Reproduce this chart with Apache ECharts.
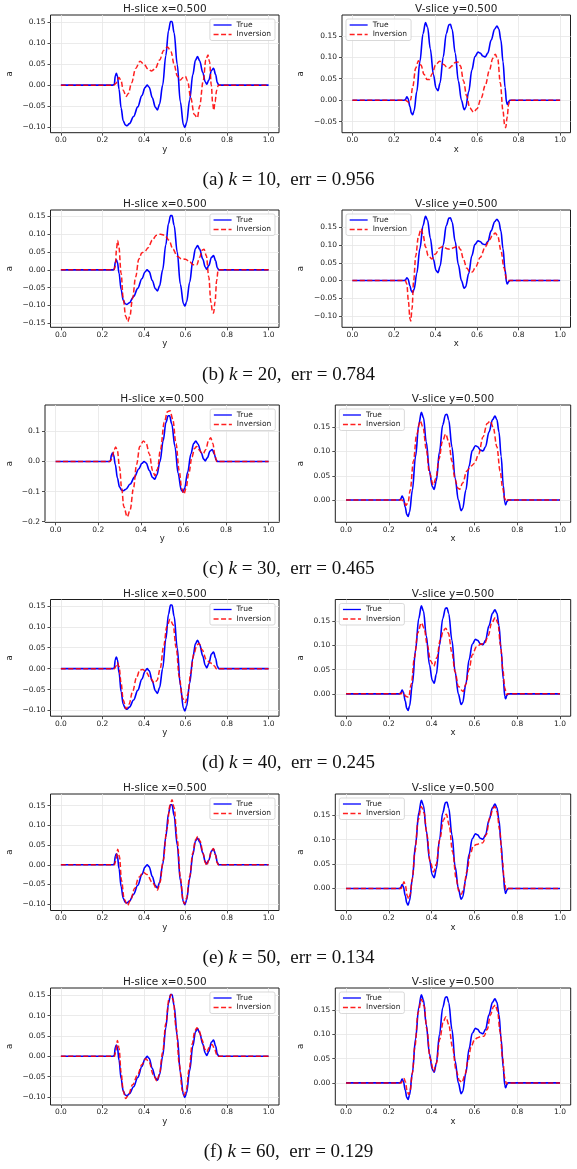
<!DOCTYPE html>
<html><head><meta charset="utf-8">
<script src="https://cdn.jsdelivr.net/npm/echarts@6/dist/echarts.min.js"></script>
<style>html,body{margin:0;padding:0;background:#fff}#c{width:577px;height:1169px}</style>
</head><body><div id="c"></div><script>
// ---------- DATA ----------
const kValues = [10, 20, 30, 40, 50, 60];
const errValues = ['0.956', '0.784', '0.465', '0.245', '0.134', '0.129'];
const panelLetters = ['a', 'b', 'c', 'd', 'e', 'f'];
const xTicks = [0, 0.2, 0.4, 0.6, 0.8, 1.0];
const yTicksH = [
  [-0.10, -0.05, 0, 0.05, 0.10, 0.15],
  [-0.15, -0.10, -0.05, 0, 0.05, 0.10, 0.15],
  [-0.2, -0.1, 0, 0.1],
  [-0.10, -0.05, 0, 0.05, 0.10, 0.15],
  [-0.10, -0.05, 0, 0.05, 0.10, 0.15],
  [-0.10, -0.05, 0, 0.05, 0.10, 0.15]
];
const yTicksV = [
  [-0.05, 0, 0.05, 0.10, 0.15],
  [-0.10, -0.05, 0, 0.05, 0.10, 0.15],
  [0, 0.05, 0.10, 0.15],
  [0, 0.05, 0.10, 0.15],
  [0, 0.05, 0.10, 0.15],
  [0, 0.05, 0.10, 0.15]
];
const yRangeH = [[-0.1136, 0.1675], [-0.161, 0.1677], [-0.202, 0.1877], [-0.1136, 0.1653], [-0.116, 0.1794], [-0.1197, 0.168]];
const yRangeV = [[-0.0758, 0.1986], [-0.132, 0.199], [-0.046, 0.196], [-0.0459, 0.194], [-0.0451, 0.1937], [-0.0454, 0.195]];

const hTrue = [[0,0],[0.25,0],[0.257,0.002],[0.262,0.022],[0.267,0.028],[0.272,0.022],[0.28,-0.01],[0.29,-0.055],[0.30,-0.085],[0.31,-0.095],[0.318,-0.097],[0.33,-0.092],[0.35,-0.075],[0.37,-0.052],[0.39,-0.025],[0.405,-0.006],[0.415,0.0],[0.425,-0.005],[0.44,-0.03],[0.455,-0.053],[0.465,-0.059],[0.475,-0.045],[0.49,0.0],[0.505,0.07],[0.518,0.13],[0.528,0.152],[0.535,0.152],[0.545,0.125],[0.56,0.05],[0.575,-0.04],[0.59,-0.095],[0.597,-0.101],[0.605,-0.09],[0.62,-0.035],[0.635,0.025],[0.648,0.06],[0.658,0.068],[0.668,0.058],[0.683,0.03],[0.695,0.008],[0.702,0.002],[0.712,0.012],[0.725,0.035],[0.735,0.040],[0.745,0.025],[0.753,0.006],[0.76,0],[1,0]];
const vTrue = [[0,0],[0.25,0],[0.256,0.002],[0.262,0.008],[0.268,0.004],[0.277,-0.015],[0.284,-0.03],[0.29,-0.034],[0.297,-0.025],[0.31,0.02],[0.325,0.09],[0.34,0.155],[0.352,0.181],[0.362,0.17],[0.375,0.12],[0.39,0.06],[0.403,0.028],[0.412,0.022],[0.422,0.04],[0.437,0.10],[0.452,0.155],[0.465,0.176],[0.472,0.177],[0.48,0.165],[0.495,0.11],[0.51,0.045],[0.525,0.0],[0.538,-0.022],[0.545,-0.018],[0.56,0.02],[0.575,0.07],[0.59,0.102],[0.605,0.112],[0.615,0.11],[0.628,0.103],[0.64,0.101],[0.652,0.11],[0.668,0.14],[0.685,0.166],[0.696,0.173],[0.705,0.166],[0.715,0.14],[0.725,0.09],[0.735,0.03],[0.742,-0.005],[0.746,-0.010],[0.752,-0.003],[0.758,0],[1,0]];

const hInv10 = [[0,0],[0.255,0],[0.265,0.004],[0.273,0.014],[0.28,0.018],[0.29,0.01],[0.30,-0.012],[0.314,-0.027],[0.325,-0.02],[0.34,0.005],[0.36,0.04],[0.381,0.057],[0.40,0.05],[0.42,0.038],[0.437,0.034],[0.455,0.04],[0.475,0.06],[0.495,0.083],[0.514,0.091],[0.53,0.08],[0.545,0.05],[0.56,0.022],[0.574,0.012],[0.588,0.018],[0.599,0.021],[0.61,0.01],[0.625,-0.03],[0.642,-0.07],[0.657,-0.078],[0.668,-0.05],[0.685,0.01],[0.698,0.06],[0.708,0.072],[0.716,0.055],[0.724,0.0],[0.731,-0.045],[0.736,-0.060],[0.742,-0.04],[0.75,-0.012],[0.758,0],[1,0]];
const vInv10 = [[0,0],[0.255,0],[0.265,-0.003],[0.272,-0.006],[0.28,0.0],[0.29,0.03],[0.305,0.075],[0.318,0.092],[0.33,0.082],[0.345,0.06],[0.36,0.048],[0.37,0.048],[0.385,0.062],[0.40,0.082],[0.42,0.091],[0.44,0.083],[0.455,0.077],[0.466,0.075],[0.48,0.08],[0.495,0.088],[0.508,0.089],[0.52,0.08],[0.535,0.045],[0.55,0.01],[0.565,-0.018],[0.584,-0.028],[0.60,-0.02],[0.62,0.005],[0.64,0.035],[0.66,0.07],[0.676,0.098],[0.688,0.107],[0.70,0.095],[0.712,0.04],[0.725,-0.025],[0.733,-0.058],[0.738,-0.064],[0.745,-0.04],[0.752,-0.01],[0.758,0],[1,0]];
const hInv20 = [[0,0],[0.255,0],[0.262,0.01],[0.268,0.06],[0.273,0.082],[0.279,0.065],[0.29,-0.01],[0.30,-0.08],[0.312,-0.13],[0.322,-0.145],[0.332,-0.13],[0.345,-0.08],[0.36,-0.02],[0.375,0.03],[0.39,0.048],[0.405,0.052],[0.42,0.062],[0.44,0.083],[0.46,0.097],[0.48,0.10],[0.50,0.097],[0.52,0.083],[0.54,0.058],[0.56,0.038],[0.58,0.031],[0.60,0.03],[0.62,0.022],[0.638,0.014],[0.654,0.014],[0.668,0.035],[0.68,0.055],[0.689,0.058],[0.70,0.04],[0.712,-0.02],[0.722,-0.09],[0.73,-0.118],[0.735,-0.121],[0.742,-0.09],[0.75,-0.03],[0.757,0],[1,0]];
const vInv20 = [[0,0],[0.255,0],[0.262,-0.01],[0.27,-0.06],[0.277,-0.108],[0.281,-0.114],[0.287,-0.08],[0.295,0.0],[0.305,0.07],[0.318,0.125],[0.331,0.146],[0.34,0.13],[0.352,0.095],[0.365,0.07],[0.383,0.061],[0.40,0.075],[0.42,0.092],[0.436,0.096],[0.455,0.09],[0.471,0.088],[0.49,0.093],[0.508,0.098],[0.52,0.088],[0.535,0.06],[0.55,0.035],[0.565,0.025],[0.577,0.024],[0.595,0.04],[0.615,0.065],[0.64,0.095],[0.66,0.115],[0.675,0.128],[0.688,0.134],[0.70,0.125],[0.715,0.085],[0.73,0.035],[0.742,0.005],[0.75,0],[1,0]];
const hInv30 = [[0,0],[0.255,0],[0.265,0.01],[0.275,0.04],[0.282,0.048],[0.29,0.035],[0.30,-0.02],[0.31,-0.09],[0.32,-0.15],[0.336,-0.184],[0.35,-0.16],[0.365,-0.09],[0.38,-0.01],[0.395,0.05],[0.412,0.068],[0.425,0.06],[0.44,0.025],[0.455,-0.03],[0.466,-0.047],[0.478,-0.025],[0.492,0.04],[0.51,0.13],[0.525,0.165],[0.537,0.169],[0.55,0.14],[0.565,0.06],[0.58,-0.03],[0.592,-0.09],[0.602,-0.108],[0.612,-0.09],[0.625,-0.04],[0.64,0.015],[0.652,0.043],[0.662,0.050],[0.675,0.038],[0.686,0.028],[0.693,0.026],[0.705,0.04],[0.718,0.07],[0.728,0.079],[0.738,0.06],[0.748,0.02],[0.756,0],[1,0]];
const vInv30 = [[0,0],[0.262,0],[0.272,-0.005],[0.28,-0.011],[0.29,-0.005],[0.30,0.02],[0.315,0.08],[0.33,0.135],[0.347,0.163],[0.36,0.15],[0.375,0.105],[0.39,0.055],[0.408,0.031],[0.42,0.045],[0.435,0.085],[0.45,0.12],[0.466,0.136],[0.48,0.12],[0.495,0.08],[0.51,0.042],[0.522,0.025],[0.531,0.022],[0.545,0.035],[0.565,0.06],[0.585,0.07],[0.601,0.076],[0.62,0.095],[0.64,0.13],[0.66,0.158],[0.674,0.163],[0.688,0.15],[0.705,0.11],[0.72,0.06],[0.732,0.025],[0.742,0.003],[0.748,-0.003],[0.755,0],[1,0]];
const hInv40 = [[0,0],[0.258,0],[0.265,0.006],[0.272,0.014],[0.28,0.005],[0.29,-0.035],[0.30,-0.075],[0.314,-0.096],[0.328,-0.085],[0.345,-0.055],[0.365,-0.02],[0.38,-0.003],[0.395,-0.002],[0.41,-0.008],[0.43,-0.022],[0.45,-0.034],[0.463,-0.028],[0.478,0.0],[0.495,0.055],[0.51,0.1],[0.526,0.118],[0.54,0.105],[0.555,0.05],[0.57,-0.02],[0.585,-0.07],[0.599,-0.081],[0.612,-0.06],[0.625,-0.01],[0.64,0.035],[0.655,0.057],[0.665,0.060],[0.68,0.045],[0.70,0.022],[0.718,0.014],[0.73,0.012],[0.74,0.006],[0.748,0],[1,0]];
const vInv40 = [[0,0],[0.258,0],[0.263,0.003],[0.27,0.0],[0.28,-0.005],[0.293,-0.007],[0.305,0.02],[0.32,0.075],[0.335,0.125],[0.352,0.146],[0.365,0.135],[0.38,0.1],[0.395,0.068],[0.41,0.057],[0.425,0.075],[0.44,0.11],[0.455,0.13],[0.466,0.135],[0.478,0.125],[0.495,0.085],[0.51,0.045],[0.525,0.015],[0.547,0.005],[0.56,0.02],[0.575,0.05],[0.59,0.08],[0.61,0.097],[0.63,0.102],[0.648,0.104],[0.665,0.12],[0.68,0.145],[0.698,0.157],[0.71,0.145],[0.722,0.1],[0.733,0.05],[0.742,0.012],[0.75,-0.002],[0.755,0],[1,0]];
const hInv50 = [[0,0],[0.258,0],[0.265,0.012],[0.274,0.039],[0.282,0.02],[0.292,-0.04],[0.305,-0.088],[0.321,-0.103],[0.335,-0.09],[0.355,-0.06],[0.375,-0.032],[0.397,-0.019],[0.415,-0.025],[0.44,-0.045],[0.465,-0.064],[0.477,-0.045],[0.492,0.01],[0.51,0.09],[0.525,0.15],[0.535,0.165],[0.545,0.145],[0.56,0.065],[0.575,-0.03],[0.588,-0.09],[0.595,-0.099],[0.605,-0.085],[0.62,-0.03],[0.635,0.03],[0.648,0.063],[0.659,0.072],[0.67,0.06],[0.685,0.028],[0.695,0.005],[0.702,-0.002],[0.712,0.012],[0.725,0.035],[0.734,0.041],[0.744,0.025],[0.752,0.005],[0.757,0],[1,0]];
const vInv50 = [[0,0],[0.258,0],[0.265,0.008],[0.271,0.014],[0.278,0.005],[0.286,-0.015],[0.293,-0.021],[0.30,-0.012],[0.31,0.02],[0.322,0.075],[0.337,0.14],[0.352,0.168],[0.365,0.155],[0.378,0.11],[0.393,0.055],[0.41,0.034],[0.422,0.05],[0.438,0.1],[0.455,0.14],[0.469,0.152],[0.482,0.13],[0.498,0.075],[0.515,0.02],[0.527,-0.005],[0.539,-0.012],[0.55,0.0],[0.565,0.035],[0.58,0.07],[0.595,0.087],[0.609,0.09],[0.625,0.092],[0.64,0.094],[0.655,0.11],[0.672,0.145],[0.688,0.165],[0.695,0.168],[0.705,0.158],[0.718,0.12],[0.73,0.06],[0.74,0.015],[0.748,-0.003],[0.755,0],[1,0]];
const hInv60 = [[0,0],[0.258,0],[0.265,0.015],[0.272,0.039],[0.28,0.02],[0.29,-0.04],[0.30,-0.085],[0.312,-0.104],[0.325,-0.095],[0.345,-0.07],[0.37,-0.045],[0.39,-0.02],[0.409,-0.006],[0.425,-0.015],[0.445,-0.045],[0.462,-0.061],[0.474,-0.045],[0.49,0.01],[0.505,0.08],[0.52,0.14],[0.53,0.152],[0.54,0.14],[0.555,0.07],[0.57,-0.02],[0.585,-0.085],[0.593,-0.096],[0.603,-0.085],[0.618,-0.03],[0.632,0.03],[0.645,0.063],[0.655,0.070],[0.665,0.063],[0.68,0.04],[0.692,0.018],[0.702,0.011],[0.715,0.022],[0.728,0.029],[0.74,0.018],[0.75,0.004],[0.755,0],[1,0]];
const vInv60 = [[0,0],[0.258,0],[0.265,0.005],[0.271,0.009],[0.278,0.002],[0.286,-0.018],[0.293,-0.024],[0.30,-0.015],[0.31,0.02],[0.322,0.075],[0.337,0.145],[0.352,0.172],[0.365,0.158],[0.378,0.11],[0.393,0.05],[0.41,0.024],[0.422,0.04],[0.438,0.09],[0.455,0.127],[0.467,0.136],[0.48,0.12],[0.497,0.075],[0.515,0.025],[0.53,0.005],[0.542,0.001],[0.555,0.015],[0.57,0.045],[0.585,0.075],[0.60,0.088],[0.615,0.093],[0.63,0.095],[0.645,0.096],[0.66,0.11],[0.675,0.14],[0.69,0.157],[0.698,0.160],[0.708,0.148],[0.72,0.105],[0.732,0.05],[0.742,0.01],[0.75,-0.002],[0.755,0],[1,0]];

const hInvs = [hInv10, hInv20, hInv30, hInv40, hInv50, hInv60];
const vInvs = [vInv10, vInv20, vInv30, vInv40, vInv50, vInv60];

// ---------- LAYOUT ----------
const FONT = 'DejaVu Sans';
const TXT = '#222';
const rowTop = [15, 210, 405, 599.5, 794, 988];
const rowH = [117.7, 117.3, 117.3, 116.7, 116.5, 117];
const hBox = [[50.5, 228.5], [50.5, 228.5], [45, 234.3], [50.5, 228.5], [50.5, 228.5], [50.5, 228.5]];
const vBox = [[342, 228.5], [342, 228.5], [335.3, 235.4], [335.3, 235.4], [335.3, 235.4], [335.3, 235.4]];
const captionY = [180, 375, 569, 763, 958, 1152];

function fmt(v, d) {
  const s = Math.abs(v).toFixed(d);
  return (v < -1e-9 ? '\u2212' : '') + s;
}

const grid = [], xAxis = [], yAxis = [], series = [], legend = [], graphic = [];

for (let i = 0; i < 6; i++) {
  for (let j = 0; j < 2; j++) {
    const isH = j === 0;
    const idx = i * 2 + j;
    const box = isH ? hBox[i] : vBox[i];
    const rng = isH ? yRangeH[i] : yRangeV[i];
    const yt = isH ? yTicksH[i] : yTicksV[i];
    const dec = (isH && i === 2) ? 1 : 2;
    const left = box[0], width = box[1], top = rowTop[i], height = rowH[i];
    grid.push({ left, top, width, height, show: true, borderColor: '#1e1e1e', borderWidth: 1,
      backgroundColor: '#fff', containLabel: false, outerBoundsMode: 'none' });
    xAxis.push({
      type: 'value', gridIndex: idx, min: -0.05, max: 1.05, position: 'bottom',
      name: isH ? 'y' : 'x', nameLocation: 'middle', nameGap: 11,
      nameTextStyle: { fontSize: 8.5, color: TXT, fontFamily: FONT },
      axisLine: { show: false, onZero: false },
      axisTick: { show: true, inside: false, length: 3, lineStyle: { color: '#222', width: 0.8 }, customValues: xTicks },
      axisLabel: { customValues: xTicks, formatter: v => v.toFixed(1), fontSize: 7.5, color: TXT, fontFamily: FONT, margin: 3.5 },
      splitLine: { show: true, lineStyle: { color: '#e6e6e6', width: 0.8 } }
    });
    let nameGap;
    if (isH) nameGap = (i === 2) ? 31 : 36;
    else nameGap = (i < 2) ? 37 : 30;
    yAxis.push({
      type: 'value', gridIndex: idx, min: rng[0], max: rng[1], position: 'left',
      name: 'a', nameLocation: 'middle', nameGap,
      nameTextStyle: { fontSize: 8.5, color: TXT, fontFamily: FONT },
      axisLine: { show: false, onZero: false },
      axisTick: { show: true, inside: false, length: 3, lineStyle: { color: '#222', width: 0.8 }, customValues: yt },
      axisLabel: { customValues: yt, formatter: v => fmt(v, dec), fontSize: 7.5, color: TXT, fontFamily: FONT, margin: 5 },
      splitLine: { show: true, lineStyle: { color: '#e6e6e6', width: 0.8 } }
    });
    series.push({
      type: 'line', name: 'True', xAxisIndex: idx, yAxisIndex: idx,
      data: isH ? hTrue : vTrue, symbol: 'none', smooth: 0.35, smoothMonotone: 'x',
      lineStyle: { color: '#0000ff', width: 1.6 }, itemStyle: { color: '#0000ff' }, z: 3, animation: false
    });
    series.push({
      type: 'line', name: 'Inversion', xAxisIndex: idx, yAxisIndex: idx,
      data: isH ? hInvs[i] : vInvs[i], symbol: 'none', smooth: 0.35, smoothMonotone: 'x',
      lineStyle: { color: 'rgba(255,0,0,0.88)', width: 1.5, type: [5, 2.5] }, itemStyle: { color: 'rgba(255,0,0,0.88)' }, z: 4, animation: false
    });
    const lg = {
      data: ['True', 'Inversion'], orient: 'vertical', top: top + 4,
      itemWidth: 18, itemHeight: 8, itemGap: 1.5, padding: [2, 4, 2, 3],
      textStyle: { fontSize: 7.5, color: TXT, fontFamily: FONT },
      itemStyle: { opacity: 0 },
      lineStyle: { width: 1.3 },
      borderColor: '#cfcfcf', borderWidth: 0.8, borderRadius: 2,
      backgroundColor: 'rgba(255,255,255,0.85)', selectedMode: false, z: 10
    };
    if (isH) lg.right = 577 - (left + width - 4); else lg.left = left + 4;
    legend.push(lg);
    graphic.push({
      type: 'text', x: left + width / 2, y: top - 5.5, z: 20,
      style: { text: isH ? 'H-slice x=0.500' : 'V-slice y=0.500', fontSize: 10.5, fontFamily: FONT, fill: TXT,
        align: 'center', verticalAlign: 'middle', textAlign: 'center', textVerticalAlign: 'middle' }
    });
  }
  graphic.push({
    type: 'text', x: 288.5, y: captionY[i], z: 20,
    style: {
      text: '{n|(' + panelLetters[i] + ') }{i|k}{n| = ' + kValues[i] + ',  err = ' + errValues[i] + '}',
      rich: {
        n: { fontSize: 19, fontFamily: 'Liberation Serif', fill: '#111', color: '#111' },
        i: { fontSize: 19, fontFamily: 'Liberation Serif', fontStyle: 'italic', fill: '#111', color: '#111' }
      },
      align: 'center', verticalAlign: 'middle', textAlign: 'center', textVerticalAlign: 'middle'
    }
  });
}

const chart = echarts.init(document.getElementById('c'), null, { renderer: 'canvas', width: 577, height: 1169 });
chart.setOption({ animation: false, backgroundColor: '#fff', grid, xAxis, yAxis, series, legend, graphic });
</script></body></html>
